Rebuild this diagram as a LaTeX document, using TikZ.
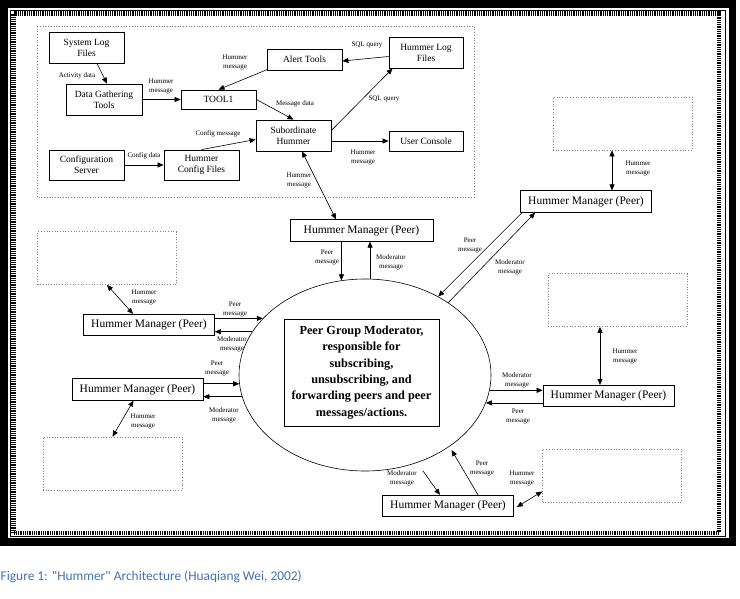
\documentclass[tikz,border=0pt]{standalone}
\usepackage{fontspec}
\setmainfont{Liberation Serif}
\newfontfamily\capfont[Ligatures=NoCommon]{Carlito}
\usetikzlibrary{arrows.meta,calc,shapes.geometric}
\definecolor{capblue}{RGB}{66,114,178}

\begin{document}
\begin{tikzpicture}[x=1pt,y=-1pt,
		box/.style={draw,line width=0.8pt,inner sep=1pt,align=center,minimum width=75pt,minimum height=31pt,font=\fontsize{9.5}{11}\selectfont},
		peer/.style={draw,line width=0.7pt,inner sep=1pt,minimum width=131pt,minimum height=21.5pt,font=\fontsize{11.5}{13}\selectfont},
		ghost/.style={draw,gray,dotted,line width=0.7pt,minimum width=139pt,minimum height=53pt},
		arr/.style={line width=0.6pt,-{Triangle[length=6pt,width=5pt]}},
		darr/.style={line width=0.6pt,{Triangle[length=6pt,width=5pt]}-{Triangle[length=6pt,width=5pt]}},
		lbl/.style={inner sep=0pt,align=center,font=\fontsize{7}{9}\selectfont}]
		\useasboundingbox (0,0) rectangle (740,598);
		% frame
		\draw[line width=7.5pt] (3.75,4) rectangle (732.5,542);
		\draw[line width=0.5pt] (10.5,10.5) rectangle (725.5,536.5);
		\draw[line width=4.5pt,dash pattern=on 0.9pt off 0.9pt] (13.5,13.5) rectangle (719,533);
		% subordinate hummer group
		\draw[gray,dotted,line width=0.7pt] (37,26) rectangle (474,197);
		\node[box] (syslog) at (86.5,47.5) {System Log\\ Files};
		\node[box,minimum width=76pt] (gather) at (104,99.5) {Data Gathering\\ Tools};
		\node[box,minimum height=19pt] (tool) at (218.5,99.5) {TOOL1};
		\node[box,minimum height=21pt] (alert) at (304.5,59.5) {Alert Tools};
		\node[box,minimum width=74pt] (hlog) at (426,52.5) {Hummer Log\\ Files};
		\node[box] (sub) at (293.5,135.5) {Subordinate\\ Hummer};
		\node[box,minimum width=74pt,minimum height=20pt] (console) at (426,141) {User Console};
		\node[box,minimum height=30pt] (cfgsrv) at (86.5,165) {Configuration\\ Server};
		\node[box,minimum height=30pt] (cfgfiles) at (201.5,165) {Hummer\\ Config Files};
		\draw[arr] ($(syslog.south)+(10.5,0)$) -- ($(gather.north)+(3,0)$);
		\draw[arr] (gather.east) -- (tool.west);
		\draw[arr] ($(alert.south west)+(1,-1)$) -- (tool.north);
		\draw[arr] ($(hlog.west)+(0,4)$) -- ($(alert.east)+(0,1.5)$);
		\draw[arr] ($(sub.east)+(0,-5)$) -- ($(hlog.south west)+(4,0)$);
		\draw[arr] (tool.east) -- (sub.north);
		\draw[arr] (cfgfiles.north) -- ($(sub.west)+(0,4)$);
		\draw[arr] (cfgsrv.east) -- (cfgfiles.west);
		\draw[arr] ($(sub.east)+(0,5.5)$) -- (console.west);
		% moderator
		\node[ellipse,draw,line width=0.6pt,minimum width=252pt,minimum height=192pt,inner sep=0pt] (pgm) at (365,375) {};
		\node[draw,line width=0.8pt,minimum width=155pt,minimum height=107pt,align=center,font=\bfseries\fontsize{12.3}{16.3}\selectfont] (duty) at (361.5,372.5)
			{Peer Group Moderator,\\ responsible for\\ subscribing,\\ unsubscribing, and\\ forwarding peers and peer\\ messages/actions.};
		% peers
		\node[peer,minimum width=143pt] (mtop) at (361.5,230.5) {Hummer Manager (Peer)};
		\foreach \n/\p in {mtr/{586,201.5},mul/{149,325},mll/{137.5,389.5},mr/{608.5,396},mb/{448,506}}
			\node[peer] (\n) at (\p) {Hummer Manager (Peer)};
		\foreach \n/\p in {dtr/{622.5,123.5},dul/{107,258},dll/{112.5,463.5},dr/{617.5,300},dlr/{612,475.5}}
			\node[ghost] (\n) at (\p) {};
		\draw[darr] ($(sub.south)+(8.5,0)$) -- ($(mtop.north)+(-25.5,0)$);
		\draw[darr] ($(mtr.north)+(26,0)$) -- ($(dtr.south)+(-10.5,0)$);
		\draw[darr] (dul.south) -- ($(mul.north)+(-16,0)$);
		\draw[darr] ($(mll.south)+(-4,0)$) -- (dll.north);
		\draw[darr] ($(mr.north)+(-8.5,0)$) -- ($(dr.south)+(-17.5,0)$);
		\draw[darr] ($(mb.east)+(3,1)$) -- ($(dlr.west)+(0,16)$);
		\draw[arr] (pgm.104 |- mtop.south) -- (pgm.104);
		\draw[arr] (pgm.87) -- (pgm.87 |- mtop.south);
		\draw[arr] (mul.east |- pgm.151) -- (pgm.151);
		\draw[arr] (pgm.159) -- (mul.east |- pgm.159);
		\draw[arr] (mll.east |- pgm.184) -- (pgm.184);
		\draw[arr] (pgm.190) -- (mll.east |- pgm.190);
		\draw[arr] (pgm.353) -- (mr.west |- pgm.353);
		\draw[arr] (mr.west |- pgm.347) -- (pgm.347);
		\draw[arr] ($(mtr.south west)+(2,0)$) -- (pgm.47);
		\draw[arr] (pgm.41) -- ($(mtr.south west)+(15,0)$);
		\draw[arr] ($(pgm.-56)+(0,10)$) -- ($(mb.north)+(-8,0)$);
		\draw[arr] ($(mb.north)+(30,0)$) -- ($(pgm.-39)+(0,5)$);
		% labels
		\foreach \n/\p/\t in {lact/{77,76}/Activity data, lhm1/{161,86}/{Hummer\\ message}, lhm2/{235,62}/{Hummer\\ message},
				lsql1/{367,45}/SQL query, lsql2/{384,99}/SQL query, lmsg/{295,104}/Message data,
				lcfgm/{218,134}/Config message, lcfgd/{144,156}/Config data, lhm3/{363,157}/{Hummer\\ message},
				lhm4/{299,180}/{Hummer\\ message}, lhm5/{638,168}/{Hummer\\ message},
				lp1/{327,257}/{Peer\\ message}, lm1/{391,262}/{Moderator\\ message},
				lp2/{470,245}/{Peer\\ message}, lm2/{510,267}/{Moderator\\ message},
				lhm6/{144,297}/{Hummer\\ message}, lp3/{235,309}/{Peer\\ message}, lm3/{232,344}/{Moderator\\ message},
				lp4/{217,368}/{Peer\\ message}, lm4/{224,415}/{Moderator\\ message}, lhm7/{143,421}/{Hummer\\ message},
				lm5/{517,380}/{Moderator\\ message}, lp5/{518,416}/{Peer\\ message}, lhm8/{625,356}/{Hummer\\ message},
				lm6/{402,478}/{Moderator\\ message}, lp6/{482,468}/{Peer\\ message}, lhm9/{522,478}/{Hummer\\ message}}
			\node[lbl] (\n) at (\p) {\t};
		% caption
		\node[anchor=west,inner sep=0pt,text=capblue,font=\capfont\fontsize{13.4}{16}\selectfont] (caption) at (0.5,577)
			{Figure 1: \symbol{34}Hummer\symbol{34} Architecture (Huaqiang Wei, 2002)};
	\end{tikzpicture}
\end{document}
